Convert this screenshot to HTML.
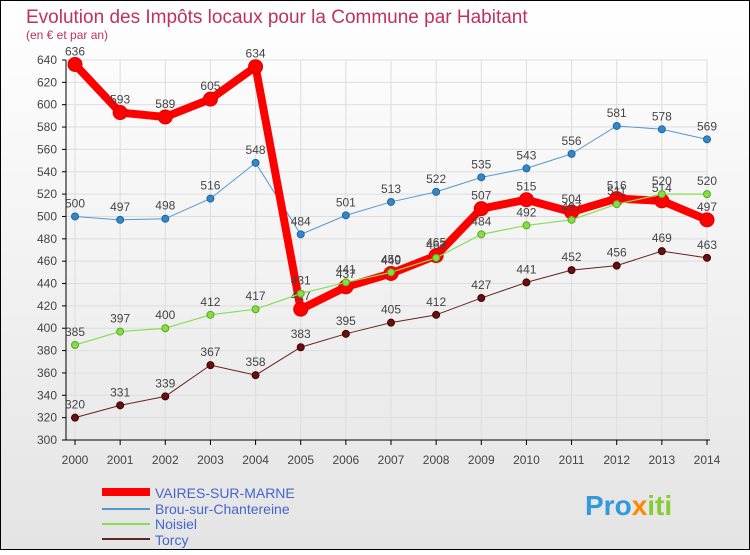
<!DOCTYPE html>
<html><head><meta charset="utf-8"><style>
body{margin:0;width:750px;height:550px;overflow:hidden;font-family:"Liberation Sans",sans-serif}
</style></head><body>
<svg id="c" width="750" height="550" xmlns="http://www.w3.org/2000/svg">
<defs><linearGradient id="bg" x1="0" y1="0" x2="0" y2="1"><stop offset="0" stop-color="#ffffff"/><stop offset="1" stop-color="#e4e4e4"/></linearGradient></defs>
<rect x="0.5" y="0.5" width="749" height="549" fill="url(#bg)" stroke="#000"/>
<text x="26" y="23" font-size="19" fill="#c03060">Evolution des Impôts locaux pour la Commune par Habitant</text>
<text x="26" y="39" font-size="12" fill="#c03060">(en € et par an)</text>
<g id="axes"></g><g id="series"></g>
<g>
<line x1="102" y1="492" x2="150" y2="492" stroke="#ff0000" stroke-width="8"/>
<text x="155" y="498" font-size="14" fill="#4466cc">VAIRES-SUR-MARNE</text>
<line x1="102" y1="509" x2="150" y2="509" stroke="#5599cc" stroke-width="2"/>
<text x="155" y="514" font-size="14" fill="#4466cc">Brou-sur-Chantereine</text>
<line x1="102" y1="524" x2="150" y2="524" stroke="#88dd55" stroke-width="2"/>
<text x="155" y="529" font-size="14" fill="#4466cc">Noisiel</text>
<line x1="102" y1="539" x2="150" y2="539" stroke="#662222" stroke-width="2"/>
<text x="155" y="545" font-size="14" fill="#4466cc">Torcy</text>
</g>
<text x="585" y="515" font-size="28" font-weight="bold" fill="#3399dd">Pro<tspan fill="#ff8800">x</tspan><tspan fill="#88cc33">iti</tspan></text>
</svg>
<script>
const years=[2000,2001,2002,2003,2004,2005,2006,2007,2008,2009,2010,2011,2012,2013,2014];
const vaires=[636,593,589,605,634,417,437,449,465,507,515,504,516,514,497];
const brou=[500,497,498,516,548,484,501,513,522,535,543,556,581,578,569];
const noisiel=[385,397,400,412,417,431,441,450,463,484,492,497,511,520,520];
const torcy=[320,331,339,367,358,383,395,405,412,427,441,452,456,469,463];
const yTicks=[300,320,340,360,380,400,420,440,460,480,500,520,540,560,580,600,620,640];
const NS="http://www.w3.org/2000/svg";
const X=i=>75+i*(707-75)/(years.length-1);
const Y=v=>440-(v-300)*380/340;
function mk(t,a,p){const e=document.createElementNS(NS,t);for(const k in a)e.setAttribute(k,a[k]);p.appendChild(e);return e;}
const ax=document.getElementById('axes'),sg=document.getElementById('series');
yTicks.forEach(v=>{
 const g=mk('line',{x1:62,x2:707,y1:Y(v),y2:Y(v),stroke:'#dddddd','stroke-width':1},ax);
 
 
 const t=mk('text',{x:57,y:Y(v)+4,'font-size':12,fill:'#444','text-anchor':'end'},ax);t.textContent=v;
 
 
 mk('line',{x1:62,x2:66,y1:Y(v),y2:Y(v),stroke:'#000'},ax);
});
years.forEach((y,i)=>{
 const g=mk('line',{x1:X(i),x2:X(i),y1:60,y2:440,stroke:'#dddddd'},ax);
 
 
 mk('line',{x1:X(i),x2:X(i),y1:440,y2:445,stroke:'#000'},ax);
 const t=mk('text',{x:X(i),y:464,'font-size':12,fill:'#444','text-anchor':'middle'},ax);t.textContent=y;
 
 
});
const a1=mk('line',{x1:66,x2:66,y1:60,y2:440,stroke:'#000'},ax);


const a2=mk('line',{x1:62,x2:710,y1:440,y2:440,stroke:'#000'},ax);


function series(vals,name,col,w,r,dot,dstroke){
 const g=mk('g',{},sg);
 
 
 const p=mk('polyline',{points:vals.map((v,i)=>X(i)+','+Y(v)).join(' '),fill:'none',stroke:col,'stroke-width':w,'stroke-linejoin':'round'},g);
 
 
 vals.forEach((v,i)=>{
  const c=mk('circle',{cx:X(i),cy:Y(v),r:r,fill:dot,stroke:dstroke,'stroke-width':1},g);
  
  
  const t=mk('text',{x:X(i),y:Y(v)-9,'font-size':12,fill:'#444','text-anchor':'middle'},g);t.textContent=v;
  
  
 });
}
series(torcy,'torcy','#662222',1,3.5,'#661111','#440000');
series(brou,'brou','#5599cc',1,3.5,'#3388cc','#226699');
series(vaires,'vaires','#ff0000',8,7,'#ff0000','#dd0000');
series(noisiel,'noisiel','#88dd55',1.2,3.5,'#88dd44','#55aa22');
</script>
</body></html>
